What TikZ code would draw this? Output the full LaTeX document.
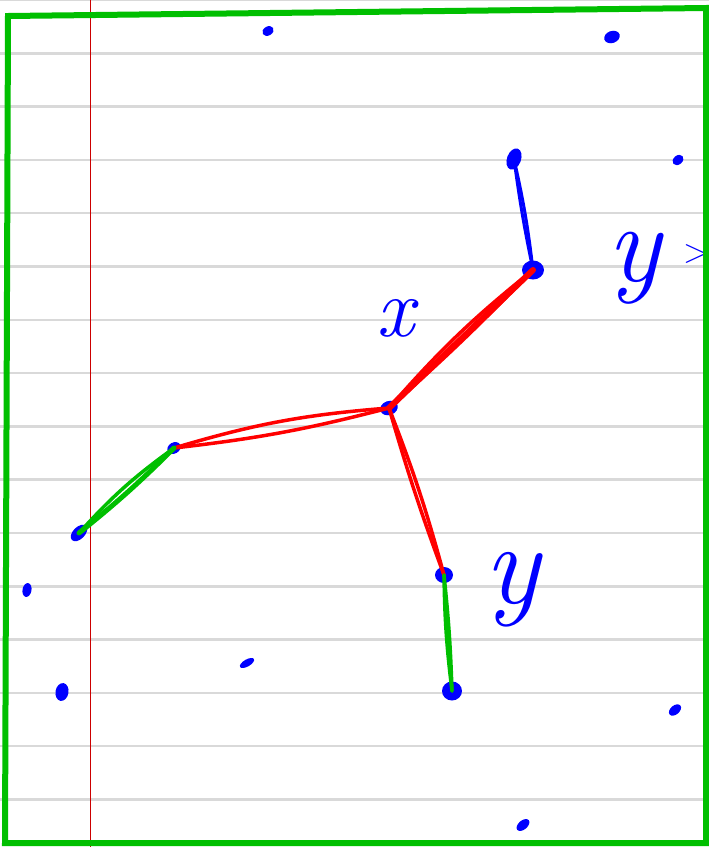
\documentclass[tikz,border=0pt]{standalone}
\usepackage{tikz}
\usetikzlibrary{shapes.geometric}

\begin{document}
\begin{tikzpicture}[
    x=1pt, y=-1pt,
    blob/.style={
        ellipse,
        fill=blue,
        inner sep=0pt,
        minimum width=18pt,
        minimum height=14pt
    },
    speck/.style={
        ellipse,
        fill=blue,
        inner sep=0pt,
        minimum width=12pt,
        minimum height=9pt
    },
    redstroke/.style={
        draw=red,
        line width=3.5pt,
        line cap=round
    },
    greenstroke/.style={
        draw=green!75!black,
        line width=3.5pt,
        line cap=round
    },
    bluestroke/.style={
        draw=blue,
        line width=3pt,
        line cap=round
    },
    letter/.style={
        text=blue,
        inner sep=0pt,
        font=\itshape
    }
]

% Page
\useasboundingbox (0,0) rectangle (709,847);
\clip (0,0) rectangle (709,847);
\fill[white] (0,0) rectangle (709,847);
\foreach \k in {0,...,15}
    \draw[gray!30, line width=2.5pt] (0,{\k*53.3}) -- (709,{\k*53.3});
\draw[red!80!black, line width=0.7pt] (90,0) -- (90,847);

% Points
\node[speck, rotate=30] (p1) at (268,31) {};
\node[speck, rotate=20, minimum width=16pt, minimum height=12pt] (p2) at (612,37) {};
\node[blob, rotate=70, minimum width=22pt] (top) at (514,159) {};
\node[speck, rotate=40] (p4) at (678,160) {};
\node[blob, minimum width=22pt, minimum height=19pt] (right) at (533,270) {};
\node[blob, rotate=20] (centre) at (389,408) {};
\node[blob, rotate=30, minimum width=14pt, minimum height=11pt] (left) at (174,448) {};
\node[blob, rotate=45, minimum width=20pt, minimum height=12pt] (far) at (79,533) {};
\node[speck, rotate=80, minimum width=14pt] (p9) at (27,590) {};
\node[speck, rotate=80, minimum width=18pt, minimum height=13pt] (p10) at (62,692) {};
\node[speck, rotate=30, minimum width=16pt, minimum height=7pt] (p11) at (247,663) {};
\node[blob, minimum width=18pt, minimum height=16pt] (mid) at (444,575) {};
\node[blob, minimum width=20pt, minimum height=19pt] (low) at (452,691) {};
\node[speck, rotate=40, minimum width=14pt] (p14) at (675,710) {};
\node[speck, rotate=40, minimum width=15pt] (p15) at (523,825) {};

% Connectors
\draw[bluestroke] (top.center) to[bend left=3] (right.center);
\draw[bluestroke] (top.center) to[bend right=2] (right.center);
\draw[redstroke, line width=6pt] (right.center) -- (centre.center);
\draw[redstroke] (right.center) to[bend right=5] (centre.center);
\draw[redstroke] (right.center) to[bend left=2] (centre.center);
\draw[redstroke] (centre.center) to[bend left=4] (left.center);
\draw[redstroke] (centre.center) to[bend right=6] (left.center);
\draw[redstroke] (centre.center) to[bend right=2] (mid.center);
\draw[redstroke] (centre.center) to[bend left=3] (mid.center);
\draw[greenstroke, line width=5pt] (left.center) to[bend left=3] (far.center);
\draw[greenstroke] (left.center) to[bend right=6] (far.center);
\draw[greenstroke] (mid.center) to[bend left=2] (low.center);
\draw[greenstroke] (mid.center) to[bend right=3] (low.center);

% Labels
\node[letter, font=\itshape\fontsize{84}{84}\selectfont] (xlab) at (395,318) {x};
\node[letter, font=\itshape\fontsize{112}{112}\selectfont] (ylab) at (634,268) {y};
\node[letter, font=\fontsize{34}{34}\selectfont, anchor=west] (gt) at (683,254) {>};
\node[letter, font=\itshape\fontsize{116}{116}\selectfont] (ylab2) at (512,590) {y};

% Border
\draw[green!75!black, line width=6pt, line join=miter]
    (8,16) -- (706,8) -- (706,843) -- (5,843) -- cycle;

\end{tikzpicture}
\end{document}
